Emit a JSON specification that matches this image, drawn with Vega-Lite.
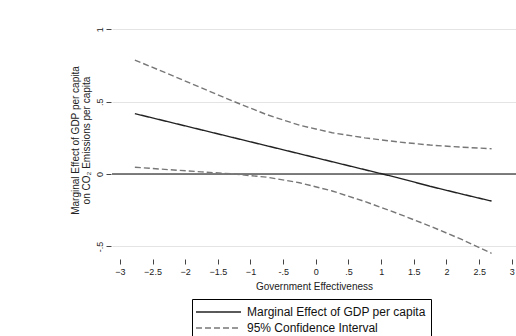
{
  "$schema": "https://vega.github.io/schema/vega-lite/v6.json",
  "width": 404,
  "height": 236,
  "autosize": {"type": "none"},
  "padding": {"left": 112, "top": 22, "right": 0, "bottom": 78},
  "background": "white",
  "config": {
    "view": {"stroke": null},
    "font": "Liberation Sans",
    "axis": {"labelFont": "Liberation Sans", "titleFont": "Liberation Sans", "titleFontWeight": "normal", "labelColor": "#222", "titleColor": "#222", "tickColor": "#444"},
    "legend": {"labelFont": "Liberation Sans"}
  },
  "datasets": {
    "effects": [
      {"ge": -2.77, "me": 0.417, "lo": 0.047, "hi": 0.787},
      {"ge": -2.25, "me": 0.36, "lo": 0.03, "hi": 0.69},
      {"ge": -1.75, "me": 0.305, "lo": 0.015, "hi": 0.595},
      {"ge": -1.25, "me": 0.25, "lo": 0.0, "hi": 0.5},
      {"ge": -0.75, "me": 0.195, "lo": -0.022, "hi": 0.41},
      {"ge": -0.25, "me": 0.14, "lo": -0.06, "hi": 0.337},
      {"ge": 0.25, "me": 0.085, "lo": -0.117, "hi": 0.285},
      {"ge": 0.75, "me": 0.03, "lo": -0.19, "hi": 0.25},
      {"ge": 1.25, "me": -0.025, "lo": -0.272, "hi": 0.222},
      {"ge": 1.75, "me": -0.085, "lo": -0.36, "hi": 0.2},
      {"ge": 2.25, "me": -0.14, "lo": -0.455, "hi": 0.185},
      {"ge": 2.69, "me": -0.187, "lo": -0.548, "hi": 0.175}
    ]
  },
  "layer": [
    {
      "data": {"values": [{"zero": 0}]},
      "mark": {"type": "rule", "color": "#555", "strokeWidth": 1.6},
      "encoding": {"y": {"field": "zero", "type": "quantitative", "scale": {"domain": [-0.58, 1.05], "nice": false, "zero": false}}}
    },
    {
      "data": {"name": "effects"},
      "transform": [
        {"fold": ["me", "lo", "hi"], "as": ["bound", "value"]},
        {"calculate": "datum.bound == 'me' ? 'Marginal Effect of GDP per capita' : '95% Confidence Interval'", "as": "series"}
      ],
      "mark": {"type": "line", "strokeWidth": 1.4},
      "encoding": {
        "x": {
          "field": "ge", "type": "quantitative",
          "scale": {"domain": [-3.12, 3.064], "nice": false, "zero": false},
          "axis": {
            "values": [-3, -2.5, -2, -1.5, -1, -0.5, 0, 0.5, 1, 1.5, 2, 2.5, 3],
            "labelExpr": "datum.value == 0.5 ? '.5' : datum.value == -0.5 ? '-.5' : format(datum.value, '~g')",
            "grid": false, "domain": false, "offset": 1, "tickSize": 5,
            "labelFontSize": 9, "labelPadding": 3,
            "title": "Government Effectiveness", "titleFontSize": 10, "titlePadding": 5
          }
        },
        "y": {
          "field": "value", "type": "quantitative",
          "scale": {"domain": [-0.58, 1.05], "nice": false, "zero": false},
          "axis": {
            "values": [-0.5, 0, 0.5, 1],
            "labelExpr": "datum.value == 0.5 ? '.5' : datum.value == -0.5 ? '-.5' : format(datum.value, '~g')",
            "grid": true, "gridColor": "#e4e4e4", "gridWidth": 1,
            "domain": false, "offset": 1, "tickSize": 5,
            "labelFontSize": 9, "labelAngle": -90, "labelAlign": "center", "labelBaseline": "bottom", "labelPadding": 2,
            "title": ["Marginal Effect of GDP per capita", "on CO₂ Emissions per capita"],
            "titleFontSize": 10, "titleLineHeight": 11, "titlePadding": 4
          }
        },
        "detail": {"field": "bound"},
        "color": {
          "field": "series", "type": "nominal", "title": null,
          "scale": {"domain": ["Marginal Effect of GDP per capita", "95% Confidence Interval"], "range": ["#222222", "#777777"]}
        },
        "strokeDash": {
          "field": "series", "type": "nominal", "title": null,
          "scale": {"domain": ["Marginal Effect of GDP per capita", "95% Confidence Interval"], "range": [[1, 0], [6, 3]]},
          "legend": {
            "orient": "none", "legendX": 80, "legendY": 277,
            "strokeColor": "#000", "fillColor": "#fff", "cornerRadius": 0, "padding": 5,
            "symbolType": "M-1.286,0H5.143", "symbolSize": 196, "symbolStrokeWidth": 1.4,
            "labelOffset": 34, "labelFontSize": 12, "labelColor": "#111", "labelLimit": 400, "rowPadding": 2
          }
        }
      }
    }
  ]
}
